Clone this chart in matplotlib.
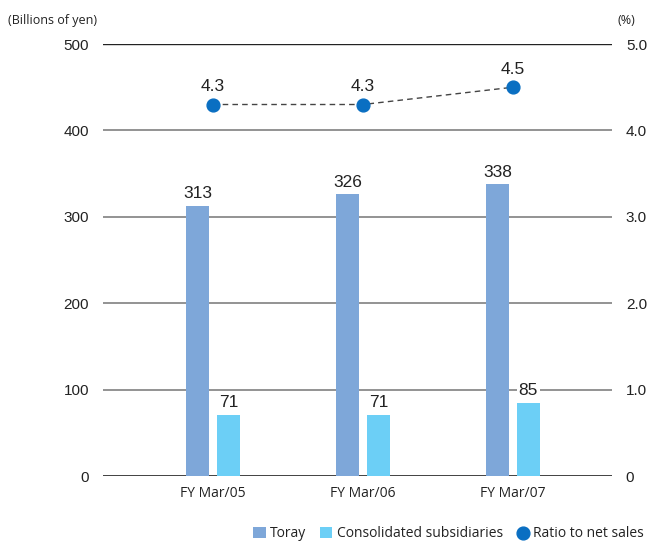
import matplotlib.pyplot as plt
import numpy as np

years = ['FY Mar/05', 'FY Mar/06', 'FY Mar/07']
toray = [313, 326, 338]
subsidiaries = [71, 71, 85]
ratio = [4.3, 4.3, 4.5]

left_ticks = [0, 100, 200, 300, 400, 500]
right_ticks = ['0', '1.0', '2.0', '3.0', '4.0', '5.0']

c_toray = '#7ea7d9'
c_sub = '#6ccff6'
c_dot = '#0a6fc2'
num_font = 'Liberation Sans'
txt_font = 'Open Sans'

fig = plt.figure(figsize=(6.5, 5.51), dpi=100)
ax = fig.add_axes([0.1585, 0.1361, 0.783, 0.784])

x = np.arange(len(years))
w = 0.153
off = 0.103

b1 = ax.bar(x - off, toray, w, color=c_toray, zorder=3)
b2 = ax.bar(x + off, subsidiaries, w, color=c_sub, zorder=3)

for xi, v in zip(x, toray):
    ax.text(xi - off, v + 5, str(v), ha='center', va='bottom',
            fontsize=12.5, family=num_font, color='#222222', zorder=4)
for xi, v in zip(x, subsidiaries):
    ax.text(xi + off, v + 5, str(v), ha='center', va='bottom',
            fontsize=12.5, family=num_font, color='#222222', zorder=4,
            bbox=dict(facecolor='white', edgecolor='none', pad=1.5))

# ratio line plotted on the left scale (1% = 100)
ry = [r * 100 for r in ratio]
ax.plot(x, ry, color='#444444', lw=1, ls=(0, (4, 3)), zorder=4)
dots = ax.scatter(x, ry, s=85, color=c_dot, zorder=5)
for xi, r, yv in zip(x, ratio, ry):
    ax.text(xi, yv + 12, '%.1f' % r, ha='center', va='bottom',
            fontsize=12.5, family=num_font, color='#222222', zorder=4)

# grid lines
for t in left_ticks:
    if t == 0:
        col, lw = '#333333', 1.3
    elif t == 500:
        col, lw = '#222222', 1.0
    else:
        col, lw = '#808080', 1.2
    ax.axhline(t, color=col, lw=lw, zorder=1)

ax.set_xlim(-0.733, 2.66)
ax.set_ylim(0, 500)
ax.set_yticks(left_ticks)
ax.set_yticklabels([str(t) for t in left_ticks], fontsize=11,
                   family=num_font, color='#222222')
ax.tick_params(axis='y', length=0, pad=10)
ax.set_xticks(x)
ax.set_xticklabels(years, fontsize=10, family=txt_font, color='#222222')
ax.tick_params(axis='x', length=0, pad=7)
for s in ax.spines.values():
    s.set_visible(False)

ax2 = ax.twinx()
ax2.set_ylim(0, 500)
ax2.set_yticks(left_ticks)
ax2.set_yticklabels(right_ticks, fontsize=11, family=num_font, color='#222222')
ax2.tick_params(axis='y', length=0, pad=10)
for s in ax2.spines.values():
    s.set_visible(False)

fig.text(0.012, 0.962, '(Billions of yen)', fontsize=9, family=txt_font,
         color='#222222', ha='left', va='center')
fig.text(0.963, 0.962, '(%)', fontsize=9, family=txt_font,
         color='#222222', ha='center', va='center')

leg = fig.legend([b1, b2, dots],
                 ['Toray', 'Consolidated subsidiaries', 'Ratio to net sales'],
                 loc='lower right', bbox_to_anchor=(1.01, -0.005),
                 ncol=3, frameon=False, handlelength=0.9, handleheight=0.9,
                 handletextpad=0.3, columnspacing=1.0,
                 prop={'family': txt_font, 'size': 10})
for t in leg.get_texts():
    t.set_color('#222222')

fig.savefig('out.png', dpi=100)
